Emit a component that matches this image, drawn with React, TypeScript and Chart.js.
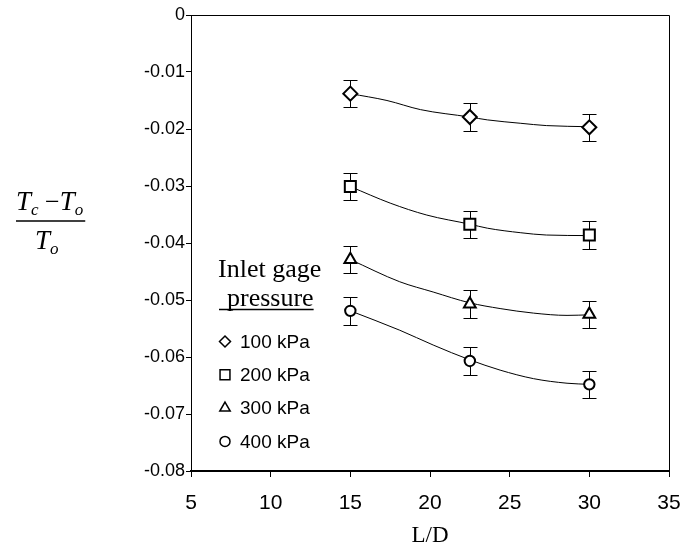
import React, { useEffect, useRef } from 'react';
import { Chart, registerables } from 'chart.js';
import { drawPoint } from 'chart.js/helpers';

Chart.register(...registerables);

// ---- data ----
const seriesLabels = ['100 kPa', '200 kPa', '300 kPa', '400 kPa'];
const pointStyles = ['rectRot', 'rect', 'triangle', 'circle'];
const markerX = [15, 22.5, 30];
const values100 = [-0.0138, -0.0179, -0.0197];
const values200 = [-0.0301, -0.0367, -0.0386];
const values300 = [-0.0429, -0.0507, -0.0525];
const values400 = [-0.0519, -0.0607, -0.0648];
const errors100 = [0.0024, 0.0024, 0.0024];
const errors200 = [0.0024, 0.0024, 0.0024];
const errors300 = [0.0024, 0.0024, 0.0024];
const errors400 = [0.0024, 0.0024, 0.0024];

const curve100X = [15, 17.3, 19.4, 22.5, 23.6, 25.7, 27.3, 30];
const curve100Y = [-0.0138, -0.015, -0.0166, -0.0179, -0.0184, -0.019, -0.0194, -0.0196];
const curve200X = [15, 17.5, 19.8, 22.5, 23.6, 25.7, 27.3, 30];
const curve200Y = [-0.0301, -0.033, -0.0351, -0.0367, -0.0374, -0.0382, -0.0386, -0.0387];
const curve300X = [15, 18.1, 20.2, 22.5, 24.4, 26.5, 28.6, 30];
const curve300Y = [-0.0429, -0.0468, -0.0486, -0.0505, -0.0515, -0.0523, -0.0527, -0.0526];
const curve400X = [15, 18.1, 20.2, 22.5, 24.4, 26.5, 28.6, 30];
const curve400Y = [-0.0519, -0.0553, -0.0579, -0.0605, -0.0623, -0.0638, -0.0646, -0.0648];

const xTickValues = [5, 10, 15, 20, 25, 30, 35];
const yTickValues = [0, -0.01, -0.02, -0.03, -0.04, -0.05, -0.06, -0.07, -0.08];
const xTitle = 'L/D';
const legendTitleLine1 = 'Inlet gage';
const legendTitleLine2 = 'pressure';

const seriesValues = [values100, values200, values300, values400];
const seriesErrors = [errors100, errors200, errors300, errors400];
const curvesX = [curve100X, curve200X, curve300X, curve400X];
const curvesY = [curve100Y, curve200Y, curve300Y, curve400Y];
const markerRadius = [7, 7.8, 6.8, 5.2];
const legendRadius = [5.5, 7, 6, 5];

const SANS = '"Liberation Sans", Arial, sans-serif';
const SERIF = '"Liberation Serif", "Times New Roman", serif';

const errorBarPlugin = {
  id: 'errorBars',
  beforeDatasetsDraw(chart: any) {
    const { ctx } = chart;
    const xs = chart.scales.x;
    const ys = chart.scales.y;
    ctx.save();
    ctx.strokeStyle = '#000';
    ctx.lineWidth = 1;
    seriesValues.forEach((vals, i) => {
      vals.forEach((v, j) => {
        const e = seriesErrors[i][j];
        const x = Math.round(xs.getPixelForValue(markerX[j])) + 0.5;
        const yt = Math.round(ys.getPixelForValue(v + e)) + 0.5;
        const yb = Math.round(ys.getPixelForValue(v - e)) + 0.5;
        ctx.beginPath();
        ctx.moveTo(x, yt);
        ctx.lineTo(x, yb);
        ctx.moveTo(x - 7, yt);
        ctx.lineTo(x + 7, yt);
        ctx.moveTo(x - 7, yb);
        ctx.lineTo(x + 7, yb);
        ctx.stroke();
      });
    });
    ctx.restore();
  },
};

const framePlugin = {
  id: 'frame',
  afterDatasetsDraw(chart: any) {
    const { ctx, chartArea } = chart;
    ctx.save();
    ctx.strokeStyle = '#000';
    ctx.lineWidth = 1;
    ctx.beginPath();
    ctx.moveTo(chartArea.left, Math.round(chartArea.top) + 0.5);
    ctx.lineTo(chartArea.right + 0.5, Math.round(chartArea.top) + 0.5);
    ctx.lineTo(Math.round(chartArea.right) + 0.5, chartArea.bottom);
    ctx.stroke();
    ctx.restore();
  },
};

const textPlugin = {
  id: 'texts',
  afterDraw(chart: any) {
    const { ctx } = chart;
    ctx.save();
    ctx.fillStyle = '#000';
    ctx.strokeStyle = '#000';

    // y-axis title: (Tc - To) / To
    const big = `italic 27px ${SERIF}`;
    const sub = `italic 17px ${SERIF}`;
    const reg = `26px ${SERIF}`;
    const parts = [
      { t: 'T', f: big, dy: 0 },
      { t: 'c', f: sub, dy: 5 },
      { t: ' \u2212', f: reg, dy: 0 },
      { t: 'T', f: big, dy: 0 },
      { t: 'o', f: sub, dy: 5 },
    ];
    ctx.textBaseline = 'alphabetic';
    ctx.textAlign = 'left';
    let w = 0;
    parts.forEach((p) => { ctx.font = p.f; w += ctx.measureText(p.t).width; });
    let x = 16;
    const numBase = 210;
    parts.forEach((p) => {
      ctx.font = p.f;
      ctx.fillText(p.t, x, numBase + p.dy);
      x += ctx.measureText(p.t).width;
    });
    ctx.lineWidth = 1.5;
    ctx.beginPath();
    ctx.moveTo(16, 221);
    ctx.lineTo(Math.max(84, 16 + w + 2), 221);
    ctx.stroke();
    ctx.font = big;
    ctx.fillText('T', 35, 249);
    const tw = ctx.measureText('T').width;
    ctx.font = sub;
    ctx.fillText('o', 35 + tw, 254);

    // legend
    ctx.font = `26px ${SERIF}`;
    ctx.fillText(legendTitleLine1, 218, 277);
    ctx.fillText(legendTitleLine2, 227, 306);
    const pw = ctx.measureText(legendTitleLine2).width;
    ctx.lineWidth = 1.5;
    ctx.beginPath();
    ctx.moveTo(219, 309.5);
    ctx.lineTo(227 + pw, 309.5);
    ctx.stroke();

    ctx.font = `19px ${SANS}`;
    ctx.textBaseline = 'middle';
    seriesLabels.forEach((lab, i) => {
      const cy = 341.5 + i * 33.3;
      ctx.fillStyle = '#fff';
      ctx.strokeStyle = '#000';
      ctx.lineWidth = 1.5;
      drawPoint(ctx, { pointStyle: pointStyles[i], radius: legendRadius[i], rotation: 0, borderWidth: 1.5 }, 225, cy);
      ctx.fillStyle = '#000';
      ctx.fillText(lab, 240, cy + 1);
    });
    ctx.restore();
  },
};

export default function App() {
  const ref = useRef<HTMLCanvasElement>(null);
  useEffect(() => {
    document.body.style.margin = '0';
    const markerSets = seriesValues.map((vals, i) => ({
      label: seriesLabels[i],
      data: vals.map((v, j) => ({ x: markerX[j], y: v })),
      showLine: false,
      pointStyle: pointStyles[i],
      pointRadius: markerRadius[i],
      pointBorderWidth: 2,
      pointBackgroundColor: '#fff',
      pointBorderColor: '#000',
    }));
    const curveSets = curvesX.map((xsArr, i) => ({
      label: seriesLabels[i] + ' fit',
      data: xsArr.map((xv, j) => ({ x: xv, y: curvesY[i][j] })),
      showLine: true,
      borderColor: '#000',
      borderWidth: 1,
      pointRadius: 0,
      cubicInterpolationMode: 'monotone',
      fill: false,
    }));
    const chart = new Chart(ref.current as HTMLCanvasElement, {
      type: 'scatter',
      data: { datasets: [...markerSets, ...curveSets] as any },
      options: {
        animation: false,
        responsive: false,
        devicePixelRatio: 1,
        events: [],
        layout: { padding: { left: 0, top: 15, right: 30, bottom: 0 } },
        plugins: { legend: { display: false }, tooltip: { enabled: false } },
        scales: {
          x: {
            type: 'linear',
            min: 5,
            max: 35,
            afterBuildTicks: (s: any) => { s.ticks = xTickValues.map((v) => ({ value: v })); },
            afterFit: (s: any) => { s.height = 81; },
            grid: { display: true, drawOnChartArea: false, drawTicks: true, tickLength: 6, color: '#000' },
            border: { display: true, color: '#000', width: 2 },
            ticks: { color: '#000', font: { family: SANS, size: 21 }, padding: 14, maxRotation: 0, autoSkip: false },
            title: { display: true, text: xTitle, color: '#000', font: { family: SERIF, size: 23 }, padding: { top: 0, bottom: 2 } },
          },
          y: {
            type: 'linear',
            min: -0.08,
            max: 0,
            afterBuildTicks: (s: any) => { s.ticks = yTickValues.map((v) => ({ value: v })); },
            afterFit: (s: any) => { s.width = 191; },
            grid: { display: true, drawOnChartArea: false, drawTicks: true, tickLength: 5, color: '#000' },
            border: { display: true, color: '#000', width: 1 },
            ticks: { color: '#000', font: { family: SANS, size: 18 }, padding: 1, autoSkip: false, callback: (v: any) => String(v) },
          },
        },
      },
      plugins: [errorBarPlugin, framePlugin, textPlugin],
    } as any);
    return () => chart.destroy();
  }, []);
  return (
    <div style={{ width: 699, height: 552 }}>
      <canvas ref={ref} width={699} height={552} style={{ display: 'block' }} />
    </div>
  );
}
